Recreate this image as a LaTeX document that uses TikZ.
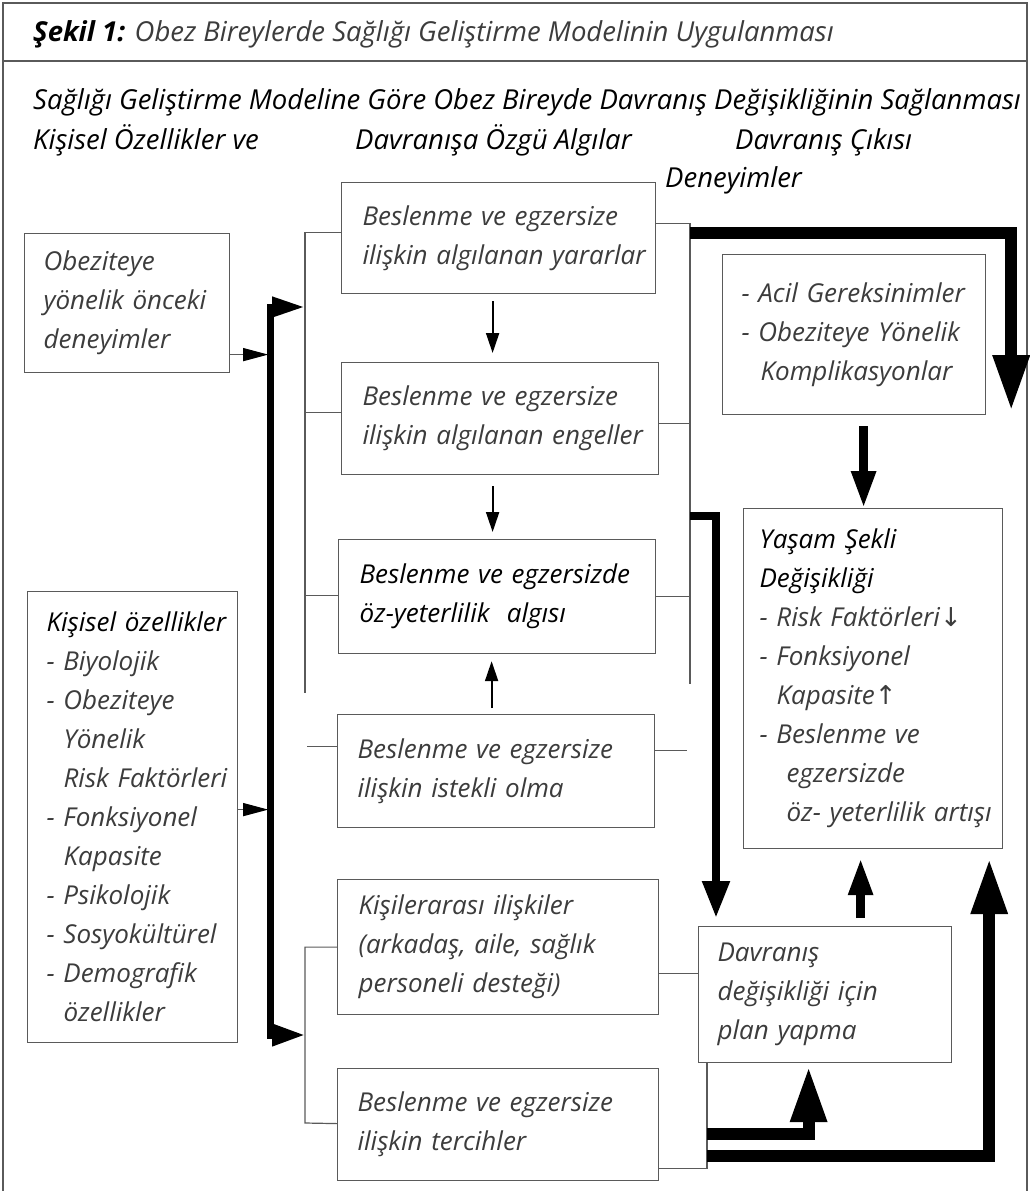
\documentclass[tikz,border=0pt]{standalone}
\usepackage{fontspec}
\setmainfont{Open Sans}
\newfontfamily\okfont{DejaVu Sans}
\usepackage{tikz}
\usetikzlibrary{arrows.meta}
\usetikzlibrary{calc}

\definecolor{r0g0b0}{rgb}{0.000000,0.000000,0.000000}
\definecolor{r60g60b60}{rgb}{0.235294,0.235294,0.235294}
\definecolor{r90g90b90}{rgb}{0.352941,0.352941,0.352941}

\newcommand\yazi{\fontsize{26pt}{39pt}\selectfont\itshape}
\newcommand\basyazi{\fontsize{27.5pt}{39pt}\selectfont\itshape}

\tikzset{
  kutu/.style n args={3}{draw=r90g90b90, line width=1.2pt, anchor=north west, align=left,
    inner xsep=0pt, inner ysep=0pt, text width=#1, minimum height=#2, text=r60g60b60,
    font=\yazi, execute at begin node={\parindent=0pt\leftskip=#3\relax}},
  baslik/.style={anchor=base west, inner sep=0pt, font=\basyazi, text=r0g0b0},
  cerceve/.style={draw=r90g90b90, line width=2pt},
  ince/.style={draw=r90g90b90, line width=1.2pt},
  inceok/.style={ince, -{Triangle[length=25pt,width=13pt,color=r0g0b0]}},
  aok/.style={draw=r0g0b0, line width=2pt, -{Triangle[length=20pt,width=13pt]}},
  dikok/.style={draw=r0g0b0, line width=8.5pt, -{Triangle[length=37pt,width=23pt]}},
  ortaok/.style={draw=r0g0b0, line width=8pt, -{Triangle[length=37pt,width=26pt]}},
  kalinok/.style={draw=r0g0b0, line width=12pt, -{Triangle[length=56pt,width=34pt]}},
  solok/.style={draw=r0g0b0, line width=7pt, {Triangle[length=33pt,width=19pt]}-{Triangle[length=33pt,width=21pt]}},
}

\begin{document}
\begin{tikzpicture}[x=1pt,y=-1pt]
\useasboundingbox (0,0) rectangle (1030,1191);

% Drawing frame
\draw[cerceve] (3,1191) -- (3,3) -- (1027,3) -- (1027,1191);
\draw[cerceve] (3,61) -- (1027,61);

% Writing title
\node[baslik] (sekil) at (33,41) {\textbf{Şekil 1:} \color{r60g60b60}Obez Bireylerde Sağlığı Geliştirme Modelinin Uygulanması};

% Writing headings
\node[baslik] (modelbas) at (33,109) {Sağlığı Geliştirme Modeline Göre Obez Bireyde Davranış Değişikliğinin Sağlanması};
\node[baslik] (kisiselbas) at (33,149) {Kişisel Özellikler ve};
\node[baslik] (algibas) at (355,149) {Davranışa Özgü Algılar};
\node[baslik] (cikisbas) at (735,149) {Davranış Çıkısı};
\node[baslik] (deneyimbas) at (665,187) {Deneyimler};

% Left boxes
\node[kutu={205pt}{139pt}{19pt}] (obez) at (24,233) {Obeziteye\\yönelik önceki\\deneyimler};
\node[kutu={210pt}{451pt}{19pt}] (kisisel) at (27,591) {\color{r0g0b0}Kişisel özellikler\\\color{r60g60b60}- Biyolojik\\- Obeziteye\\\hspace*{17pt}Yönelik\\\hspace*{17pt}Risk Faktörleri\\- Fonksiyonel\\\hspace*{17pt}Kapasite\\- Psikolojik\\- Sosyokültürel\\- Demografik\\\hspace*{17pt}özellikler};

% Middle boxes
\node[kutu={314pt}{111pt}{21pt}] (yarar) at (341,182) {Beslenme ve egzersize\\ilişkin algılanan yararlar};
\node[kutu={317pt}{112pt}{21pt}] (engel) at (341,362) {Beslenme ve egzersize\\ilişkin algılanan engeller};
\node[kutu={317pt}{114pt}{21pt}, text=r0g0b0] (ozyet) at (338,539) {Beslenme ve egzersizde\\öz-yeterlilik~ algısı};
\node[kutu={317pt}{113pt}{20pt}] (istek) at (337,714) {Beslenme ve egzersize\\ilişkin istekli olma};
\node[kutu={321pt}{135pt}{21pt}] (kisiler) at (337,879) {Kişilerarası ilişkiler\\(arkadaş, aile, sağlık\\personeli desteği)};
\node[kutu={321pt}{112pt}{20pt}] (tercih) at (337,1068) {Beslenme ve egzersize\\ilişkin tercihler};

% Right boxes
\node[kutu={263pt}{160pt}{19pt}] (acil) at (722,254) {- Acil Gereksinimler\\- Obeziteye Yönelik\\\hspace*{19pt}Komplikasyonlar};
\node[kutu={259pt}{340pt}{16pt}] (yasam) at (743,508) {\color{r0g0b0}Yaşam Şekli\\Değişikliği\\\color{r60g60b60}- Risk Faktörleri{\okfont\itshape ↓}\\- Fonksiyonel\\\hspace*{17pt}Kapasite{\okfont\itshape ↑}\\- Beslenme ve\\\hspace*{27pt}egzersizde\\\hspace*{27pt}öz- yeterlilik artışı};
\node[kutu={253pt}{136pt}{19pt}] (plan) at (698,926) {Davranış\\değişikliği için\\plan yapma};

% Left brackets
\coordinate (lust) at (305,232);
\coordinate (lalt) at (305,693);
\draw[ince] (lust) -- (lalt);
\draw[ince] ([yshift=5.5pt]yarar.west) -- ([yshift=5.5pt]yarar.west -| lust);
\draw[ince] ([yshift=6pt]engel.west) -- ([yshift=6pt]engel.west -| lust);
\draw[ince] ([yshift=1pt]ozyet.west) -- ([yshift=1pt]ozyet.west -| lust);
\draw[ince] ([yshift=24.5pt]istek.west) -- ++(-30,0);
\coordinate (l2alt) at (305,1123);
\draw[ince] (kisiler.west) -| (l2alt) -- ([yshift=1pt]tercih.west);

% Right bracket
\coordinate (rust) at (690,223);
\coordinate (ralt) at (690,684);
\draw[ince] ([yshift=14.5pt]yarar.east) -| (ralt);
\draw[ince] ([yshift=-5pt]engel.east) -- ([yshift=-5pt]engel.east -| ralt);
\draw[ince] (ozyet.east) -- (ozyet.east -| ralt);
\draw[ince] ([yshift=21pt]istek.east) -- ++(32,0);

% Lines to plan
\draw[ince] ([yshift=-26.5pt]kisiler.east) -- ([yshift=-26.5pt]kisiler.east -| plan.west);
\draw[ince] ([yshift=-44pt]tercih.east) -| ([xshift=9pt]plan.south west);

% Arrows between perceptions
\draw[aok, shorten <=7pt, shorten >=9pt] ([xshift=-6pt]yarar.south) -- ([xshift=-6pt]yarar.south |- engel.north);
\draw[aok, shorten <=11pt, shorten >=7pt] ([xshift=-7.5pt]engel.south) -- ([xshift=-7.5pt]engel.south |- ozyet.north);
\draw[aok, shorten <=6pt, shorten >=7pt] ([xshift=-4.5pt]istek.north) -- ([xshift=-4.5pt]istek.north |- ozyet.south);

% Left arrows
\coordinate (sol1) at (305,307);
\coordinate (sol2) at (305,1035);
\draw[solok] (sol1) -- ++(-35,0) |- (sol2);
\draw[inceok] ([yshift=-51.5pt]obez.east) -- ++(38,0);
\draw[inceok] ([yshift=7.5pt]kisisel.east) -- ++(30,0);

% Thick arrows on the right
\draw[kalinok] ([yshift=-10pt]rust) -| ([xshift=25pt,yshift=4pt]acil.south east);
\coordinate (rdal) at (690,516);
\draw[ortaok] (rdal) -| ([xshift=18pt,yshift=8pt]plan.north west);
\draw[dikok, shorten <=11pt] ([xshift=9.5pt]acil.south) -- ([xshift=9.5pt]acil.south |- yasam.north);
\draw[dikok, shorten <=8pt, shorten >=9pt] ([xshift=35.5pt]plan.north) -- ([xshift=35.5pt]plan.north |- yasam.south);

% Thick arrows at the bottom
\coordinate (pdal1) at (707,1134);
\coordinate (pdal2) at (707,1156);
\draw[kalinok] (pdal1) -| ([xshift=-16.5pt,yshift=-3pt]plan.south);
\draw[kalinok] (pdal2) -| ([xshift=-14pt,yshift=-9pt]yasam.south east);

\end{tikzpicture}
\end{document}
